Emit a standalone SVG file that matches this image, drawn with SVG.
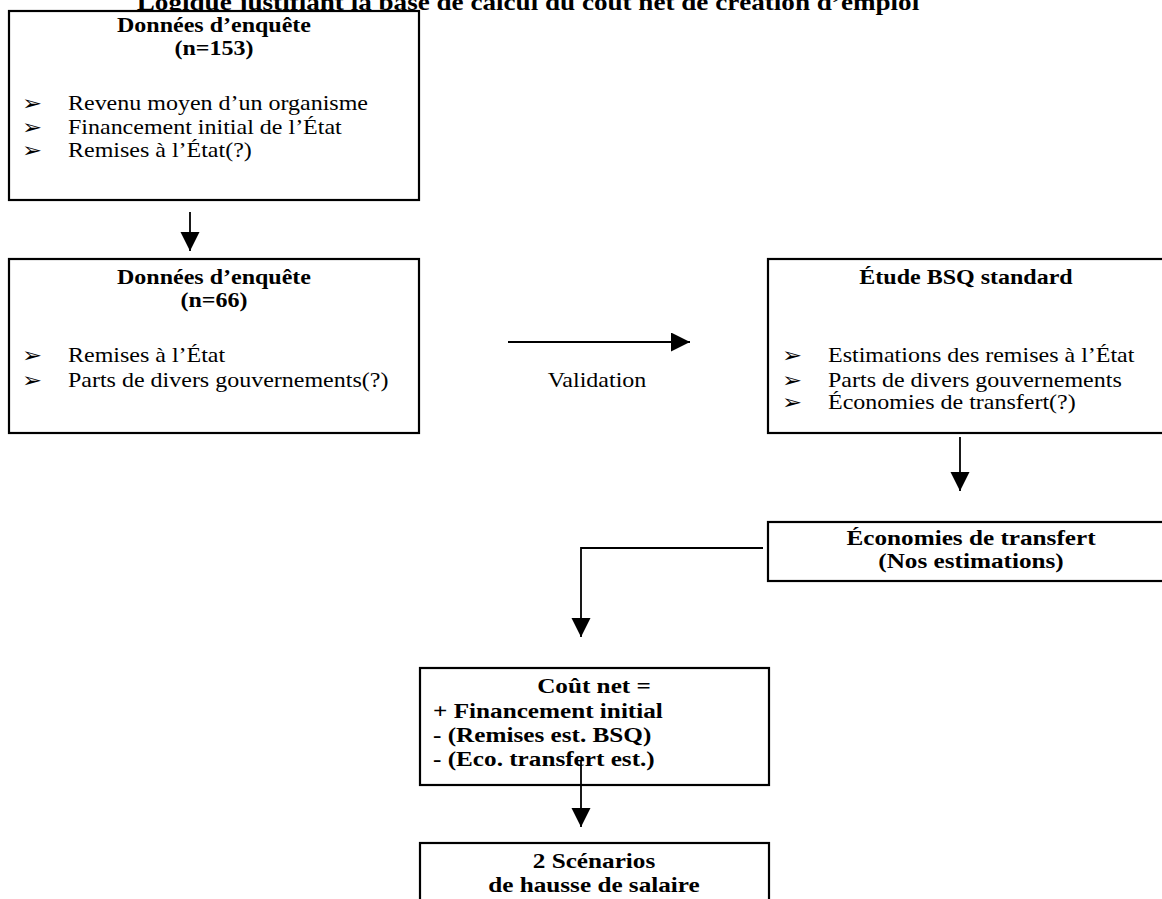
<svg xmlns="http://www.w3.org/2000/svg" width="1162" height="899" viewBox="0 0 1162 899">
<defs>
<style>
.box{fill:#fff;stroke:#000;stroke-width:2.2}
.t{font-family:"Liberation Serif","Times New Roman",serif;font-size:20px;fill:#000}
.l{font-size:21px}
.b{font-weight:bold;text-anchor:middle}
.bl{font-weight:bold}
.bul{font-family:"DejaVu Sans",sans-serif;font-size:20px;fill:#000}
.title{font-family:"Liberation Serif","Times New Roman",serif;font-size:22.6px;font-weight:bold;text-anchor:middle;fill:#000}
.con{fill:none;stroke:#000;stroke-width:1.8}
</style>
<marker id="ah" markerUnits="userSpaceOnUse" markerWidth="20" markerHeight="20" viewBox="0 0 20 20" refX="19" refY="9.5" orient="auto">
<path d="M0,0 L19,9.5 L0,19 z" fill="#000"/>
</marker>
</defs>
<rect width="1162" height="899" fill="#fff"/>
<text class="title" x="528" y="10" transform="matrix(1.2 0 0 1 -105.6 0)">Logique justifiant la base de calcul du coût net de création d’emploi</text>

<g id="connectors">
<line class="con" x1="190" y1="212" x2="190" y2="251" marker-end="url(#ah)"/>
<line class="con" x1="508" y1="342" x2="690" y2="342" marker-end="url(#ah)"/>
<line class="con" x1="960" y1="437" x2="960" y2="491" marker-end="url(#ah)"/>
<path class="con" d="M763,548 H581 V637" marker-end="url(#ah)"/>
</g>

<g id="n1">
<rect class="box" x="9" y="11" width="410" height="189"/>
<text class="t b" x="214" y="32" transform="matrix(1.2 0 0 1 -42.8 0)">Données d’enquête</text>
<text class="t b" x="214" y="55" transform="matrix(1.2 0 0 1 -42.8 0)">(n=153)</text>
<text class="bul" x="22" y="110" transform="matrix(1.2 0 0 1 -4.4 0)">➢</text>
<text class="t" x="68" y="110" transform="matrix(1.2 0 0 1 -13.6 0)">Revenu moyen d’un organisme</text>
<text class="bul" x="22" y="134" transform="matrix(1.2 0 0 1 -4.4 0)">➢</text>
<text class="t" x="68" y="134" transform="matrix(1.2 0 0 1 -13.6 0)">Financement initial de l’État</text>
<text class="bul" x="22" y="157" transform="matrix(1.2 0 0 1 -4.4 0)">➢</text>
<text class="t" x="68" y="157" transform="matrix(1.2 0 0 1 -13.6 0)">Remises à l’État(?)</text>
</g>

<g id="n2">
<rect class="box" x="9" y="259" width="410" height="174"/>
<text class="t b" x="214" y="284" transform="matrix(1.2 0 0 1 -42.8 0)">Données d’enquête</text>
<text class="t b" x="214" y="307" transform="matrix(1.2 0 0 1 -42.8 0)">(n=66)</text>
<text class="bul" x="22" y="362" transform="matrix(1.2 0 0 1 -4.4 0)">➢</text>
<text class="t" x="68" y="362" transform="matrix(1.2 0 0 1 -13.6 0)">Remises à l’État</text>
<text class="bul" x="22" y="387" transform="matrix(1.2 0 0 1 -4.4 0)">➢</text>
<text class="t" x="68" y="387" transform="matrix(1.2 0 0 1 -13.6 0)">Parts de divers gouvernements(?)</text>
</g>

<g id="validation">
<text class="t" x="597" y="387" text-anchor="middle" transform="matrix(1.2 0 0 1 -119.4 0)">Validation</text>
</g>

<g id="n3">
<rect class="box" x="768" y="259" width="402" height="174"/>
<text class="t b" x="966" y="284" transform="matrix(1.2 0 0 1 -193.2 0)">Étude BSQ standard</text>
<text class="bul" x="782" y="362" transform="matrix(1.2 0 0 1 -156.4 0)">➢</text>
<text class="t" x="828" y="362" transform="matrix(1.2 0 0 1 -165.6 0)">Estimations des remises à l’État</text>
<text class="bul" x="782" y="387" transform="matrix(1.2 0 0 1 -156.4 0)">➢</text>
<text class="t" x="828" y="387" transform="matrix(1.2 0 0 1 -165.6 0)">Parts de divers gouvernements</text>
<text class="bul" x="782" y="409" transform="matrix(1.2 0 0 1 -156.4 0)">➢</text>
<text class="t" x="828" y="409" transform="matrix(1.2 0 0 1 -165.6 0)">Économies de transfert(?)</text>
</g>

<g id="n4">
<rect class="box" x="768" y="522" width="406" height="59"/>
<text class="t l b" x="971" y="545" transform="matrix(1.2 0 0 1 -194.2 0)">Économies de transfert</text>
<text class="t l b" x="971" y="568" transform="matrix(1.2 0 0 1 -194.2 0)">(Nos estimations)</text>
</g>

<g id="n5">
<rect class="box" x="420" y="668" width="349" height="117"/>
<text class="t l b" x="594" y="693" transform="matrix(1.2 0 0 1 -118.8 0)">Coût net =</text>
<text class="t l bl" x="433" y="718" transform="matrix(1.2 0 0 1 -86.6 0)">+ Financement initial</text>
<text class="t l bl" x="433" y="742" transform="matrix(1.2 0 0 1 -86.6 0)">- (Remises est. BSQ)</text>
<text class="t l bl" x="433" y="766" transform="matrix(1.2 0 0 1 -86.6 0)">- (Eco. transfert est.)</text>
</g>

<g id="connector-last">
<line class="con" x1="581" y1="761" x2="581" y2="827" marker-end="url(#ah)"/>
</g>

<g id="n6">
<rect class="box" x="420" y="843" width="349" height="80"/>
<text class="t l b" x="594" y="868" transform="matrix(1.2 0 0 1 -118.8 0)">2 Scénarios</text>
<text class="t l b" x="594" y="892" transform="matrix(1.2 0 0 1 -118.8 0)">de hausse de salaire</text>
</g>
</svg>
